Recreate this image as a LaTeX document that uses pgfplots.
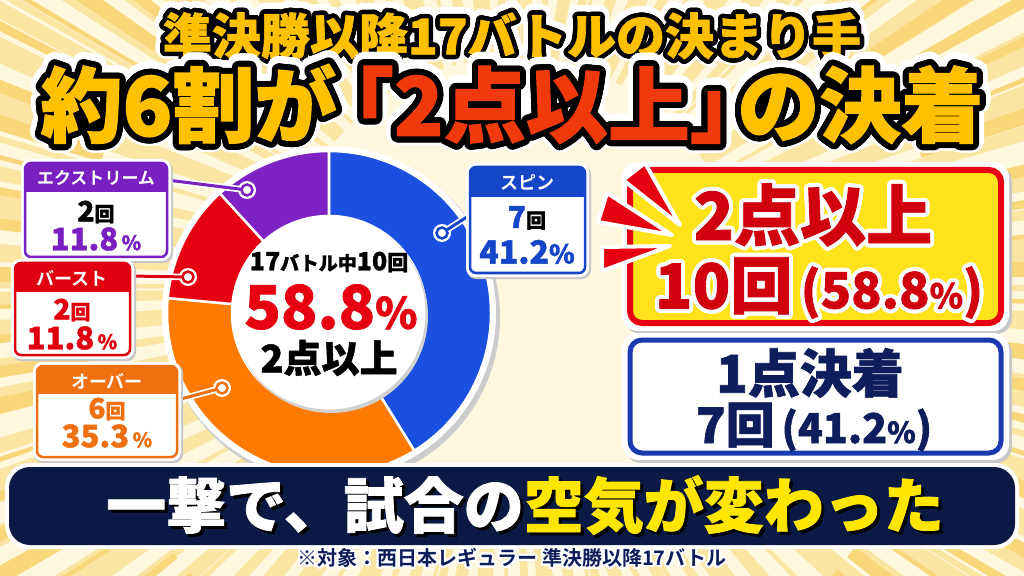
\documentclass[border=0pt]{standalone}
\usepackage{pgfplots}
\pgfplotsset{compat=1.18}
\usepackage{pgfplotstable}
\usepackage{fontspec}
\usepackage{contour}
\setmainfont{Noto Sans CJK JP}
\newfontfamily\jpk{Noto Sans CJK JP Black}[RawFeature={embolden=1.3}]
\newfontfamily\jpb{Noto Sans CJK JP Bold}
\contournumber{32}
\newcommand\fs[1]{\fontsize{#1bp}{#1bp}\selectfont}
\definecolor{bgc}{HTML}{FFF7DE}
\definecolor{stripe}{HTML}{FBE5A2}
\definecolor{stripe2}{HTML}{F8D77A}
\definecolor{cblue}{HTML}{1A4FE0}
\definecolor{corange}{HTML}{FF7A00}
\definecolor{cred}{HTML}{E60012}
\definecolor{cpurple}{HTML}{7E22C4}
\definecolor{navy}{HTML}{0B1A45}
\definecolor{hblue}{HTML}{1546C8}
\definecolor{hpurple}{HTML}{7A1FC0}
\definecolor{hred}{HTML}{E0000F}
\definecolor{horange}{HTML}{EE7010}
\definecolor{tgold}{HTML}{FFC000}
\definecolor{tred}{HTML}{F03A0C}
\definecolor{byellow}{HTML}{FFE31A}
\definecolor{bantext}{HTML}{FFE600}
\definecolor{dred}{HTML}{D0000E}
\definecolor{nblue}{HTML}{0E1E5C}
\definecolor{bborder}{HTML}{1A3AB0}
\colorlet{segc0}{cblue}
\colorlet{segc1}{corange}
\colorlet{segc2}{cred}
\colorlet{segc3}{cpurple}
\pgfplotstableread{
label value
Spin 7
Over 6
Burst 2
Extreme 2
}\finishdata
\begin{document}
\begin{tikzpicture}[x=1bp,y=-1bp,inner sep=0pt]
\useasboundingbox (0,0) rectangle (1024,576);
\clip (0,0) rectangle (1024,576);
% background
\fill[bgc] (0,0) rectangle (1024,576);
\begin{scope}[shift={(512,288)}]
\foreach \k in {0,...,119}{
  \pgfmathsetmacro\a{\k*3+mod(\k*37,7)*0.3}
  \pgfmathsetmacro\w{0.35+mod(\k*13,5)*0.22}
  \fill[stripe] (\a-\w:230) -- (\a-\w:900) -- (\a+\w:900) -- (\a+\w:230) -- cycle;
}
\foreach \k in {0,...,89}{
  \pgfmathsetmacro\a{\k*4+1.5+mod(\k*29,5)*0.4}
  \pgfmathsetmacro\w{0.25+mod(\k*11,4)*0.2}
  \fill[stripe2] (\a-\w:430) -- (\a-\w:900) -- (\a+\w:900) -- (\a+\w:430) -- cycle;
}
\end{scope}
% donut
\fill[black!20] (332,317) circle[radius=168bp];
\begin{axis}[at={(329bp,-313bp)}, anchor=center, x=1bp, y=1bp,
  xmin=-175, xmax=175, ymin=-175, ymax=175, hide axis, clip=false]
\fill[white] (axis cs:0,0) circle[radius=167bp];
\def\total{0}
\pgfplotsforeachungrouped \i in {0,1,2,3}{%
  \pgfplotstablegetelem{\i}{value}\of\finishdata
  \pgfmathsetmacro\total{\total+\pgfplotsretval}%
  \global\let\total\total
}
\gdef\startang{90}
\pgfplotsforeachungrouped \i in {0,1,2,3}{%
  \pgfplotstablegetelem{\i}{value}\of\finishdata
  \pgfmathsetmacro\endang{\startang-\pgfplotsretval/\total*360}%
  \pgfmathsetmacro\xa{162*cos(\startang)}%
  \pgfmathsetmacro\ya{162*sin(\startang)}%
  \pgfmathsetmacro\xb{97*cos(\endang)}%
  \pgfmathsetmacro\yb{97*sin(\endang)}%
  \edef\temp{\noexpand\fill[fill=segc\i, draw=white, line width=2.5bp, line join=round]
    (axis cs:\xa,\ya) arc[start angle=\startang, end angle=\endang, radius=162bp]
    -- (axis cs:\xb,\yb) arc[start angle=\endang, end angle=\startang, radius=97bp] -- cycle;}%
  \temp
  \global\let\startang\endang
}
\fill[black!18] (axis cs:2,-3) circle[radius=97bp];
\filldraw[fill=white!94!bgc, draw=white, line width=3bp] (axis cs:0,0) circle[radius=95bp];
\end{axis}
% center text
\node at (329,262) {\jpk{\fs{25}17}{\fs{19}バトル中}{\fs{25}10}{\fs{21}回}};
\node[text=cred] at (331,307) {\jpk{\fs{60}58.8}{\fs{43}\%}};
\node at (329,358) {\jpk\fs{38}2点以上};
% connectors
\foreach \p/\q/\c in {{(167,180)}/{(247,190)}/hpurple, {(130,276)}/{(188,277)}/hred, {(177,400)}/{(222,388)}/horange, {(470,215)}/{(442,233)}/hblue}{
  \draw[white, line width=6.5bp, line cap=round] \p -- \q;
  \fill[white] \q circle[radius=9bp];
  \draw[\c, line width=3bp] \p -- \q;
  \filldraw[fill=white, draw=\c, line width=2.5bp] \q circle[radius=5.5bp];
}
% label boxes
\newcommand\lbox[6]{%
  \fill[black!22, rounded corners=9bp] (#1-3,#2-2) rectangle (#3+6,#4+6);
  \fill[white, rounded corners=9bp] (#1-4,#2-4) rectangle (#3+4,#4+4);
  \begin{scope}
    \clip[rounded corners=6bp] (#1,#2) rectangle (#3,#4);
    \fill[white] (#1,#2) rectangle (#3,#4);
    \fill[#6] (#1,#2) rectangle (#3,#5);
  \end{scope}
  \draw[#6, line width=2.5bp, rounded corners=6bp] (#1,#2) rectangle (#3,#4);
}
\lbox{25}{163}{167}{257}{192}{hpurple}
\node[text=white] at (96,178) {\jpb\fs{17}エクストリーム};
\node at (96,212) {\jpk{\fs{28}2}{\fs{20}回}};
\node[text=hpurple] at (96,239) {\jpk{\fs{31}11.8}{\fs{20}\,\%}};
\lbox{15}{263}{130}{355}{292}{hred}
\node[text=white] at (72,278) {\jpb\fs{18}バースト};
\node[text=hred] at (72,310) {\jpk{\fs{28}2}{\fs{20}回}};
\node[text=hred] at (72,338) {\jpk{\fs{31}11.8}{\fs{20}\,\%}};
\lbox{37}{366}{177}{457}{394}{horange}
\node[text=white] at (107,381) {\jpb\fs{18}オーバー};
\node[text=horange] at (107,409) {\jpk{\fs{28}6}{\fs{20}回}};
\node[text=horange] at (107,436) {\jpk{\fs{31}35.3}{\fs{20}\,\%}};
\lbox{470}{167}{585}{273}{197}{hblue}
\node[text=white] at (527,182) {\jpb\fs{18}スピン};
\node at (527,218) {\jpk{\fs{30}\textcolor{hblue}{7}}{\fs{20}回}};
\node[text=hblue] at (527,252) {\jpk{\fs{32}41.2}{\fs{26}\%}};
% right boxes
\fill[black!22, rounded corners=16bp] (625,166) rectangle (1012,334);
\fill[white, rounded corners=16bp] (622,162) rectangle (1009,331);
\filldraw[fill=byellow, draw=cred, line width=6bp, rounded corners=12bp] (630,170) rectangle (1001,323);
\fill[black!22, rounded corners=16bp] (625,337) rectangle (1012,463);
\fill[white, rounded corners=16bp] (622,333) rectangle (1009,460);
\filldraw[fill=white, draw=bborder, line width=5bp, rounded corners=12bp] (630,340) rectangle (1001,453);
% spikes
\foreach \pa/\pb/\pc in {{(623,180)}/{(645,163)}/{(680,225)}, {(598,222)}/{(607,193)}/{(672,235)}, {(602,271)}/{(602,247)}/{(670,246)}}{
  \filldraw[fill=cred, draw=white, line width=4bp, line join=round] \pa -- \pb -- \pc -- cycle;
}
\node at (813,217) {\jpk\fs{66}\contourlength{4bp}\color{dred}\contour{white}{2点以上}};
\node at (819,290) {\jpk\contourlength{4bp}\color{dred}\contour{white}{{\fs{62}10回}{\fs{50}\,(58.8}{\fs{34}\%}{\fs{50})}}};
\node[text=nblue] at (810,373) {\jpk\fs{52}1点決着};
\node[text=nblue] at (814,427) {\jpk{\fs{49}7回}{\fs{41}\,(41.2}{\fs{29}\%}{\fs{41})}};
% title
\node at (512,38) {\jpk\fs{49}\contourlength{9bp}\contour{white}{準決勝以降17バトルの決まり手}};
\node at (512,38) {\jpk\fs{49}\contourlength{4.5bp}\color{tgold}\contour{black}{準決勝以降17バトルの決まり手}};
\node at (512,107) {\jpk\fs{82}\contourlength{11bp}\contour{white}{約6割が}\kern-0.3em\contour{white}{「2点以上」}\kern-0.42em\contour{white}{の決着}};
\node at (512,107) {\jpk\fs{82}\contourlength{6bp}{\color{tgold}\contour{black}{約6割が}}\kern-0.3em{\color{tred}\contour{black}{「2点以上」}}\kern-0.42em{\color{tgold}\contour{black}{の決着}}};
% banner
\fill[white, rounded corners=24bp] (5,463) rectangle (1019,549);
\fill[navy, rounded corners=21bp] (9,467) rectangle (1015,545);
\node[text=black] at (528,508) {\jpk\fs{60}一撃で、試合の空気が変わった};
\node at (525,505) {\jpk\fs{60}\textcolor{white}{一撃で、試合の}\textcolor{bantext}{空気が変わった}};
% footnote
\node at (512,559) {\jpb\fs{20}\contourlength{2bp}\color{nblue}\contour{white}{※対象：西日本レギュラー 準決勝以降17バトル}};
\end{tikzpicture}
\end{document}
